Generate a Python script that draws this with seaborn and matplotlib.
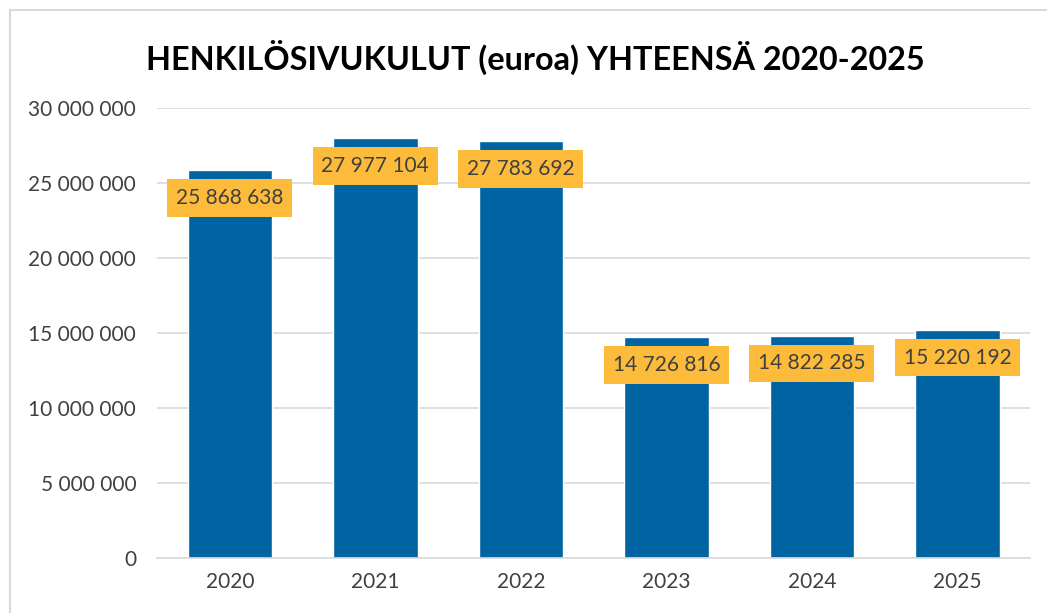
import numpy as np
import pandas as pd
import seaborn as sns
import matplotlib.pyplot as plt
from matplotlib.patches import Rectangle
from matplotlib.ticker import FuncFormatter

years = ["2020", "2021", "2022", "2023", "2024", "2025"]
costs = [25868638, 27977104, 27783692, 14726816, 14822285, 15220192]
title = "HENKILÖSIVUKULUT (euroa) YHTEENSÄ 2020-2025"

bar_color = "#0064A2"
box_color = "#FDBB3B"
text_color = "#404040"


def fmt_space(v, pos=None):
    return f"{int(round(v)):,}".replace(",", " ")


sns.set_theme(style="white")
plt.rcParams["font.family"] = ["Lato", "DejaVu Sans"]

df = pd.DataFrame({"vuosi": years, "kulut": costs})

fig = plt.figure(figsize=(10.47, 6.13), dpi=100)
ax = fig.add_axes([0.150, 0.0897, 0.834, 0.734])

# outer chart border like the excel frame
fig.patches.append(Rectangle((10 / 1047, -0.1), 1.2, 1 - 10 / 613 + 0.1,
                             transform=fig.transFigure, fill=False,
                             edgecolor="#D9D9D9", linewidth=1.5))

sns.barplot(data=df, x="vuosi", y="kulut", color=bar_color, width=0.58,
            saturation=1, ax=ax)

ax.set_ylim(0, 30000000)
ax.set_yticks(np.arange(0, 30000001, 5000000))
ax.yaxis.set_major_formatter(FuncFormatter(fmt_space))
ax.yaxis.grid(True, color="#D9D9D9", linewidth=1.2)
ax.set_axisbelow(True)
ax.set_xlabel("")
ax.set_ylabel("")
for s in ["left", "right", "top"]:
    ax.spines[s].set_visible(False)
ax.spines["bottom"].set_color("#D9D9D9")
ax.spines["bottom"].set_linewidth(1.2)
ax.tick_params(axis="both", length=0, labelsize=15, colors=text_color)
ax.tick_params(axis="y", pad=15)
ax.tick_params(axis="x", pad=10)

for i, v in enumerate(costs):
    ax.annotate(fmt_space(v), (i, v), xytext=(0, -20), textcoords="offset points",
                ha="center", va="center", fontsize=15, color=text_color,
                bbox=dict(boxstyle="square,pad=0.42", facecolor=box_color,
                          edgecolor="none"))

fig.text(535 / 1047, 1 - 57 / 613, title, ha="center", va="center",
         fontsize=23.3, fontweight="bold", color="black")

fig.savefig("out.png", dpi=100)
